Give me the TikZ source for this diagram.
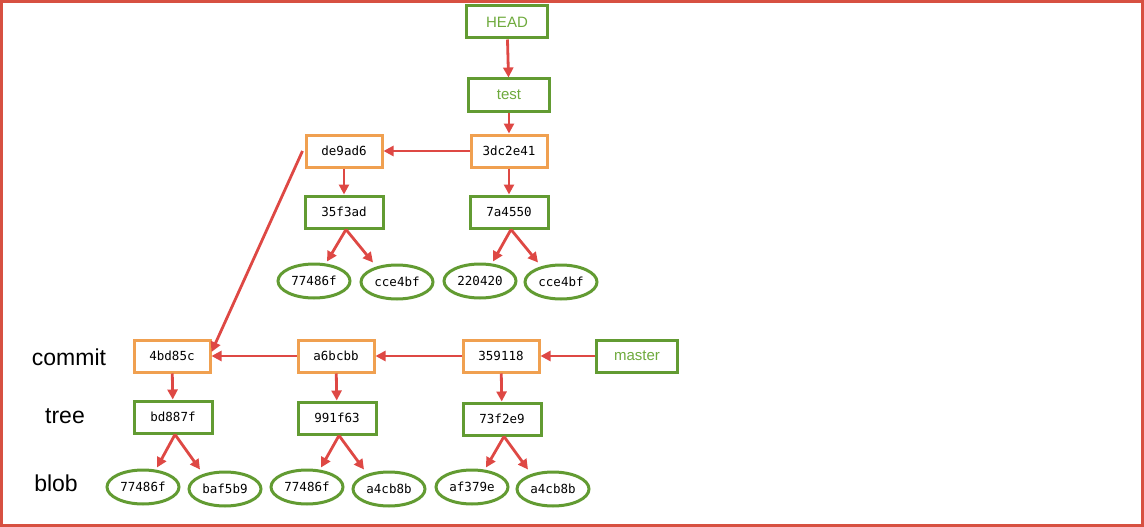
\documentclass[tikz,border=0pt]{standalone}
\usepackage{fontspec}
\setmainfont{Liberation Sans}
\newfontfamily\hashfont{DejaVu Sans Mono}
\usetikzlibrary{arrows.meta,shapes.geometric}
\definecolor{gbox}{RGB}{98,155,50}
\definecolor{obox}{RGB}{240,160,80}
\definecolor{arr}{RGB}{222,72,68}
\definecolor{frame}{RGB}{215,80,65}
\definecolor{gtext}{RGB}{110,170,60}
\begin{document}
\begin{tikzpicture}[x=1pt,y=-1pt,
  gnode/.style={draw=gbox,line width=3pt,fill=white,minimum width=78pt,minimum height=32pt,inner sep=0pt,font=\hashfont\fontsize{12.5}{14}\selectfont},
  onode/.style={draw=obox,line width=3pt,fill=white,minimum width=76pt,minimum height=32pt,inner sep=0pt,font=\hashfont\fontsize{12.5}{14}\selectfont},
  refnode/.style={gnode,minimum width=81pt,text=gtext,font=\fontsize{15}{18}\selectfont},
  blob/.style={ellipse,draw=gbox,line width=3pt,fill=white,minimum width=72pt,minimum height=34pt,inner sep=0pt,font=\hashfont\fontsize{12.5}{14}\selectfont},
  lbl/.style={font=\fontsize{23}{26}\selectfont},
  link/.style={draw=arr,line width=2.8pt,-{Triangle[length=10pt,width=10pt]}}]
\path[use as bounding box] (0,0) rectangle (1144,527);
\draw[frame,line width=3pt] (1.5,1.5) rectangle (1142.5,525.5);
% upper branch
\node[refnode] (head) at (507,22) {HEAD};
\node[refnode] (test) at (509,95) {test};
\node[onode] (c3dc) at (509,151) {3dc2e41};
\node[onode] (cde9) at (344,151) {de9ad6};
\node[gnode] (t35f) at (344,212) {35f3ad};
\node[gnode] (t7a4) at (509,212) {7a4550};
\node[blob] (b1) at (314,281) {77486f};
\node[blob] (b2) at (397,282) {cce4bf};
\node[blob] (b3) at (480,281) {220420};
\node[blob] (b4) at (561,282) {cce4bf};
% lower branch
\node[lbl] (lc) at (69,357) {commit};
\node[lbl] (lt) at (65,416) {tree};
\node[lbl] (lb) at (56,483) {blob};
\node[onode] (c4bd) at (172,356) {4bd85c};
\node[onode] (ca6b) at (336,356) {a6bcbb};
\node[onode] (c359) at (501,356) {359118};
\node[refnode] (master) at (637,356) {master};
\node[gnode] (tbd8) at (173,417) {bd887f};
\node[gnode] (t991) at (337,418) {991f63};
\node[gnode] (t73f) at (502,419) {73f2e9};
\node[blob] (d1) at (143,487) {77486f};
\node[blob] (d2) at (225,489) {baf5b9};
\node[blob] (d3) at (307,487) {77486f};
\node[blob] (d4) at (389,489) {a4cb8b};
\node[blob] (d5) at (472,487) {af379e};
\node[blob] (d6) at (553,489) {a4cb8b};
% connectors
\draw[link] (head) -- (test);
\draw[link] (test) -- (c3dc);
\draw[link] (c3dc) -- (cde9);
\draw[link] (cde9) -- (t35f);
\draw[link] (c3dc) -- (t7a4);
\draw[link] ([xshift=2pt]t35f.south) -- ([xshift=13pt,yshift=1pt]b1.north);
\draw[link] ([xshift=2pt]t35f.south) -- ([xshift=-24pt,yshift=1pt]b2.north);
\draw[link] ([xshift=2pt]t7a4.south) -- ([xshift=13pt,yshift=1pt]b3.north);
\draw[link] ([xshift=2pt]t7a4.south) -- ([xshift=-23pt,yshift=1pt]b4.north);
\draw[link] ([xshift=-2pt]cde9.west) -- ([yshift=4pt]c4bd.east);
\draw[link] (master) -- (c359);
\draw[link] (c359) -- (ca6b);
\draw[link] (ca6b) -- (c4bd);
\draw[link] (c4bd) -- (tbd8);
\draw[link] (ca6b) -- (t991);
\draw[link] (c359) -- (t73f);
\draw[link] ([xshift=2pt]tbd8.south) -- ([xshift=14pt,yshift=1pt]d1.north);
\draw[link] ([xshift=2pt]tbd8.south) -- ([xshift=-25pt,yshift=1pt]d2.north);
\draw[link] ([xshift=2pt]t991.south) -- ([xshift=14pt,yshift=1pt]d3.north);
\draw[link] ([xshift=2pt]t991.south) -- ([xshift=-25pt,yshift=1pt]d4.north);
\draw[link] ([xshift=2pt]t73f.south) -- ([xshift=14pt,yshift=1pt]d5.north);
\draw[link] ([xshift=2pt]t73f.south) -- ([xshift=-25pt,yshift=1pt]d6.north);
\end{tikzpicture}
\end{document}
